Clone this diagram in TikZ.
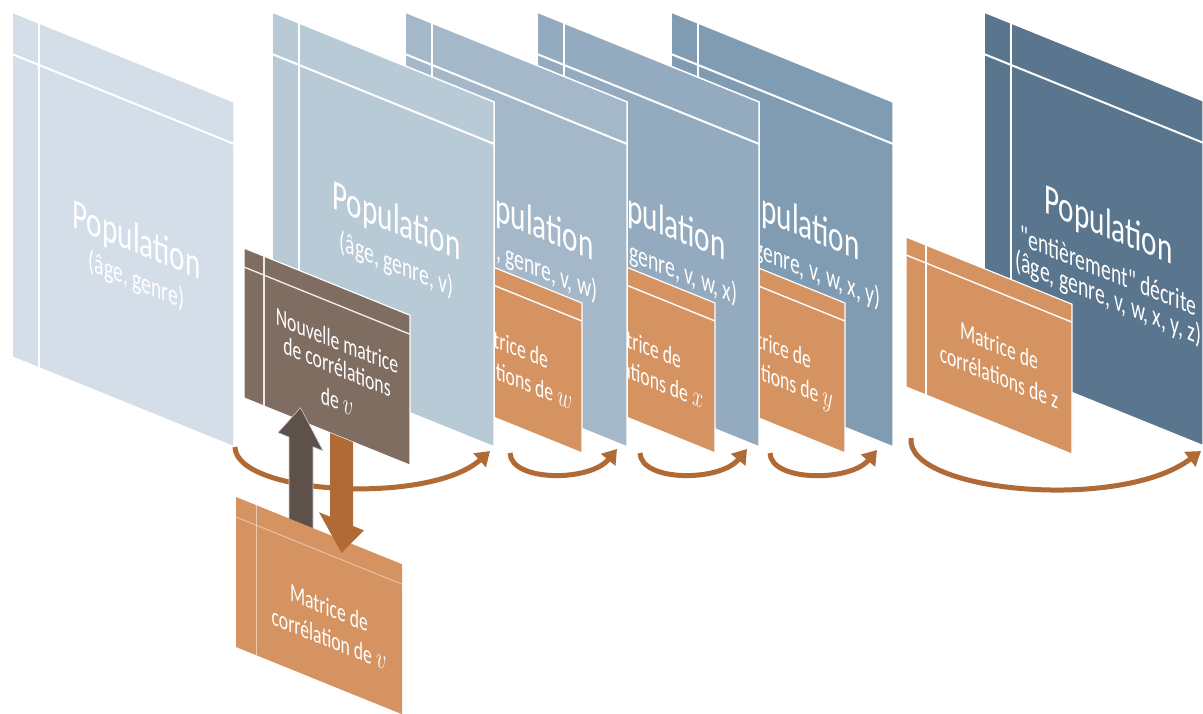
\documentclass[tikz,border=0pt]{standalone}
\usepackage{graphicx}
\usepackage{fontspec}
\setmainfont{Carlito}[Ligatures=TeXOff]
\usetikzlibrary{arrows.meta}
\definecolor{pA}{HTML}{D3DEE8}
\definecolor{pB}{HTML}{B9CAD7}
\definecolor{pC}{HTML}{A4B8CA}
\definecolor{pD}{HTML}{94AABF}
\definecolor{pE}{HTML}{809CB3}
\definecolor{pF}{HTML}{5A758E}
\definecolor{orbox}{HTML}{D59362}
\definecolor{brbox}{HTML}{7F6D62}
\definecolor{darr}{HTML}{5E514A}
\definecolor{oarr}{HTML}{B06A35}
\newcommand\mvar[1]{\scalebox{1.2}{$#1$}}
\tikzset{
  panel/.style={fill=#1, draw=white, line width=1.5pt},
  sepline/.style={draw=white, line width=2pt},
  boxsep/.style={draw=white, line width=1.4pt},
  bigtxt/.style={transform shape, xscale=0.68, anchor=base, text=white, inner sep=0pt, font=\fontsize{43}{50}\selectfont},
  subtxt/.style={transform shape, xscale=0.68, anchor=base, text=white, inner sep=0pt, font=\fontsize{29}{34}\selectfont},
  boxtxt/.style={transform shape, xscale=0.68, anchor=base, text=white, inner sep=0pt, font=\fontsize{26}{30}\selectfont},
  flow/.style={draw=oarr, line width=5pt, -{Triangle[length=14pt,width=18pt]}},
}
% panel: #1 X left, #2 colour, #3 width
\newcommand\popPanel[3]{%
  \pgfmathsetmacro\vt{12-0.405*#1}%
  \path[panel=#2] (#1,\vt) rectangle ++(#3,345);
  \draw[sepline] (#1+27,\vt) -- ++(0,345);
  \draw[sepline] (#1,\vt+42) -- ++(#3,0);
}
% matrix box: #1 X left, #2 v top, #3 colour
\newcommand\matBox[3]{%
  \path[fill=#3, draw=white, line width=1.2pt] (#1,#2) rectangle ++(166,150);
  \draw[boxsep] (#1+20,#2) -- ++(0,150);
  \draw[boxsep] (#1,#2+18) -- ++(166,0);
}
\begin{document}
\begin{tikzpicture}[x=1pt,y=-1pt]
\useasboundingbox (0,0) rectangle (1203,713);
\begin{scope}[yslant=-0.405]
  % panel 5 and box y
  \popPanel{671}{pE}{222}
  \node[bigtxt] (t5a) at (795.5,-87.8) {Population};
  \node[subtxt] (t5b) at (795.5,-48.8) {(âge, genre, v, w, x, y)};
  \matBox{679}{-39.2}{orbox}
  \node[boxtxt] (by1) at (772,40.8) {Matrice de};
  \node[boxtxt] (by2) at (772,71.8) {corrélations de \mvar{y}};
  % panel 4 and box x
  \popPanel{537}{pD}{222}
  \node[bigtxt] (t4a) at (661.5,-33.5) {Population};
  \node[subtxt] (t4b) at (661.5,5.5) {(âge, genre, v, w, x)};
  \matBox{549}{13.4}{orbox}
  \node[boxtxt] (bx1) at (642,93.4) {Matrice de};
  \node[boxtxt] (bx2) at (642,124.4) {corrélations de \mvar{x}};
  % panel 3 and box w
  \popPanel{405}{pC}{222}
  \node[bigtxt] (t3a) at (529.5,20) {Population};
  \node[subtxt] (t3b) at (529.5,59) {(âge, genre, v, w)};
  \matBox{416}{67.3}{orbox}
  \node[boxtxt] (bw1) at (509,147.3) {Matrice de};
  \node[boxtxt] (bw2) at (509,178.3) {corrélations de \mvar{w}};
  % panel 2
  \popPanel{272}{pB}{222}
  \node[bigtxt] (t2a) at (396.5,73.8) {Population};
  \node[subtxt] (t2b) at (396.5,112.8) {(âge, genre, v)};
  % panel 1
  \popPanel{12}{pA}{222}
  \node[bigtxt] (t1a) at (136.5,198) {Population};
  \node[subtxt] (t1b) at (136.5,234) {(âge, genre)};
  % panel 6 and box z
  \popPanel{984}{pF}{219}
  \node[bigtxt] (t6a) at (1108.5,-210.5) {Population};
  \node[subtxt] (t6b) at (1108.5,-168.5) {"entièrement" décrite};
  \node[subtxt] (t6c) at (1108.5,-142) {(âge, genre, v, w, x, y, z)};
  \matBox{906}{-130}{orbox}
  \node[boxtxt] (bz1) at (999,-50) {Matrice de};
  \node[boxtxt] (bz2) at (999,-19) {corrélations de z};
\end{scope}
% flow arrows between panels
\coordinate (f1s) at (235,447); \coordinate (f1e) at (490,451);
\coordinate (f2s) at (510,453); \coordinate (f2e) at (617,449);
\coordinate (f3s) at (640,453); \coordinate (f3e) at (747,449);
\coordinate (f4s) at (770,453); \coordinate (f4e) at (877,450);
\coordinate (f5s) at (911,438); \coordinate (f5e) at (1201,451);
\draw[flow] (f1s) .. controls (236,495) and (430,505) .. (f1e);
\draw[flow] (f2s) .. controls (511,482) and (590,482) .. (f2e);
\draw[flow] (f3s) .. controls (641,482) and (720,482) .. (f3e);
\draw[flow] (f4s) .. controls (771,482) and (850,482) .. (f4e);
\draw[flow] (f5s) .. controls (905,492) and (1120,512) .. (f5e);
\begin{scope}[yslant=-0.405]
  % new correlation matrix (brown)
  \path[fill=brbox, draw=white, line width=1.2pt] (244,149.2) rectangle ++(166,150);
  \draw[draw=white!85!brbox, line width=1.4pt] (264,149.2) -- ++(0,150);
  \draw[draw=white!85!brbox, line width=1.4pt] (244,168.2) -- ++(166,0);
  \node[boxtxt] (nb1) at (337,213.2) {Nouvelle matrice};
  \node[boxtxt] (nb2) at (337,239.2) {de corrélations};
  \node[boxtxt] (nb3) at (337,273.2) {de \mvar{v}};
  % lower correlation matrix of v
  \path[fill=orbox] (236,401.4) rectangle ++(166,150);
  \draw[draw=white, opacity=0.5, line width=0.8pt] (256,401.4) -- ++(0,150);
  \draw[draw=white, opacity=0.5, line width=0.8pt] (236,421.4) -- ++(166,0);
  \node[boxtxt] (lb1) at (329,483.4) {Matrice de};
  \node[boxtxt] (lb2) at (329,514.4) {corrélation de \mvar{v}};
  % orange down arrow
  \path[fill=oarr] (330,299.2) -- (330,383) -- (319,383) -- (341.5,414.5)
     -- (364,383) -- (353,383) -- (353,299.2) -- cycle;
  % dark up arrow
  \path[fill=darr, draw=white!70!darr, line width=0.6pt] (289,401.4) -- (289,320) -- (278,320) -- (300.5,286)
     -- (323,320) -- (313,320) -- (313,401.4);
\end{scope}
\end{tikzpicture}
\end{document}
